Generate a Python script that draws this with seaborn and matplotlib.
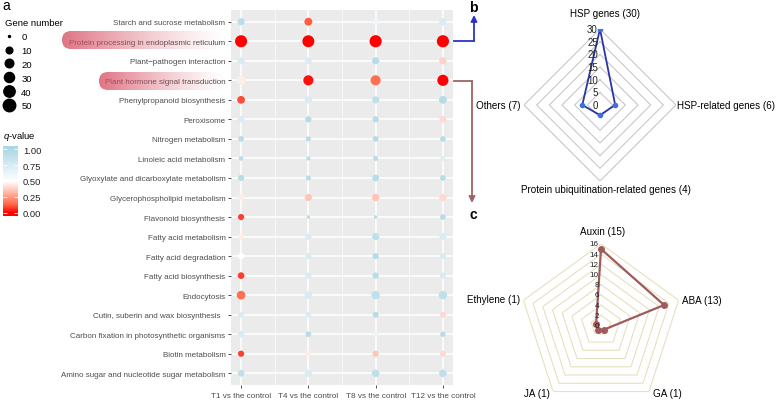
import numpy as np
import pandas as pd
import matplotlib
matplotlib.use("Agg")
import matplotlib.pyplot as plt
import seaborn as sns
from matplotlib.colors import LinearSegmentedColormap
from matplotlib.lines import Line2D
from matplotlib.patches import FancyBboxPatch

# ── data: panel a (KEGG enrichment bubbles) ──
PATHWAYS = [
    "Starch and sucrose metabolism",
    "Protein processing in endoplasmic reticulum",
    "Plant\u2212pathogen interaction",
    "Plant hormone signal transduction",
    "Phenylpropanoid biosynthesis",
    "Peroxisome",
    "Nitrogen metabolism",
    "Linoleic acid metabolism",
    "Glyoxylate and dicarboxylate metabolism",
    "Glycerophospholipid metabolism",
    "Flavonoid biosynthesis",
    "Fatty acid metabolism",
    "Fatty acid degradation",
    "Fatty acid biosynthesis",
    "Endocytosis",
    "Cutin, suberin and wax biosynthesis  ",
    "Carbon fixation in photosynthetic organisms",
    "Biotin metabolism",
    "Amino sugar and nucleotide sugar metabolism",
]
GROUPS = ["T1 vs the control", "T4 vs the control", "T8 vs the control", "T12 vs the control"]

GENE_COUNT = [
    [12, 16, 12, 12],
    [46, 45, 47, 47],
    [12, 10, 12, 13],
    [22, 30, 30, 38],
    [15, 12, 12, 16],
    [10, 8, 8, 10],
    [6, 4, 6, 6],
    [3, 2, 4, 4],
    [8, 4, 10, 6],
    [10, 12, 14, 13],
    [8, 1, 1, 6],
    [8, 8, 12, 11],
    [8, 7, 8, 7],
    [10, 7, 8, 7],
    [20, 14, 18, 18],
    [7, 6, 7, 7],
    [10, 6, 8, 5],
    [8, 6, 8, 7],
    [10, 12, 14, 14],
]
Q_VALUE = [
    [0.92, 0.12, 0.60, 0.75],
    [0.00, 0.00, 0.00, 0.00],
    [0.75, 0.75, 0.95, 0.38],
    [0.45, 0.02, 0.15, 0.00],
    [0.10, 0.75, 0.90, 0.95],
    [0.75, 0.95, 0.95, 0.40],
    [0.95, 0.95, 0.95, 0.95],
    [0.95, 0.95, 0.95, 0.70],
    [0.95, 0.95, 0.95, 0.95],
    [0.45, 0.35, 0.35, 0.40],
    [0.08, 0.95, 0.95, 0.95],
    [0.45, 0.75, 0.90, 0.75],
    [0.50, 0.75, 0.95, 0.75],
    [0.08, 0.75, 0.95, 0.75],
    [0.15, 0.75, 0.90, 0.90],
    [0.75, 0.75, 0.95, 0.40],
    [0.75, 0.95, 0.62, 0.95],
    [0.08, 0.45, 0.35, 0.40],
    [0.90, 0.75, 0.90, 0.90],
]
SIZE_BREAKS = [0, 10, 20, 30, 40, 50]
Q_BREAKS = [0.0, 0.25, 0.5, 0.75, 1.0]

# ── data: panel b / c (radar) ──
HSP_CATS = ["HSP genes (30)", "HSP-related genes (6)",
            "Protein ubiquitination-related genes (4)", "Others (7)"]
HSP_VALS = [30, 6, 4, 7]
HSP_TICKS = [0, 5, 10, 15, 20, 25, 30]
HORMONE_CATS = ["Auxin (15)", "ABA (13)", "GA (1)", "JA (1)", "Ethylene (1)"]
HORMONE_VALS = [15, 13, 1, 1, 1]
HORMONE_TICKS = [0, 2, 4, 6, 8, 10, 12, 14, 16]

plt.rcParams["font.family"] = ["Liberation Sans", "DejaVu Sans"]
plt.rcParams["mathtext.fontset"] = "custom"
plt.rcParams["mathtext.it"] = "Liberation Sans:italic"
plt.rcParams["mathtext.rm"] = "Liberation Sans"

W, H = 777, 402
fig = plt.figure(figsize=(W / 100, H / 100), dpi=100)

q_cmap = LinearSegmentedColormap.from_list("qv", [
    (0.0, "#FF0000"), (0.125, "#FF6446"), (0.25, "#FF9C82"),
    (0.375, "#FFD0C4"), (0.5, "#FFFFFF"), (0.75, "#D8ECF3"), (1.0, "#ADD8E6")])


def diam_px(n):
    # ggplot-like area scale
    return 2.0 + 10.5 * np.sqrt(n / 50.0)


def to_frac(x0, y0, w, h):
    return [x0 / W, 1 - (y0 + h) / H, w / W, h / H]


# ── panel a ──
df = pd.DataFrame(
    [(p, g, GENE_COUNT[i][j], Q_VALUE[i][j])
     for i, p in enumerate(PATHWAYS) for j, g in enumerate(GROUPS)],
    columns=["pathway", "group", "count", "q"])
size_map = {n: (diam_px(n) * 0.72) ** 2 for n in df["count"].unique()}

ax = fig.add_axes(to_frac(231, 11, 222, 375))
ax.set_facecolor("#EBEBEB")
sns.scatterplot(data=df, x="group", y="pathway", size="count", sizes=size_map,
                hue="q", palette=q_cmap, hue_norm=(0, 1), legend=False,
                linewidth=0, ax=ax, zorder=3)
ax.set_xticks(np.arange(len(GROUPS) - 1) + 0.5, minor=True)
ax.set_xlim(-0.15, len(GROUPS) - 1 + 0.15)
ax.set_ylim(len(PATHWAYS) - 1 + 0.6, -0.6)
ax.grid(True, which="major", color="white", lw=1.1)
ax.grid(True, which="minor", axis="x", color="white", lw=0.5)
ax.set_axisbelow(True)
for s in ax.spines.values():
    s.set_visible(False)
ax.set_xlabel("")
ax.set_ylabel("")
ax.tick_params(which="major", length=2.5, width=0.6, color="#333333",
               labelcolor="#4D4D4D", pad=1.5)
ax.tick_params(axis="y", labelsize=5.8)
ax.tick_params(axis="x", labelsize=5.9, pad=2.5)
ax.tick_params(which="minor", length=0)

# size legend
handles = [Line2D([], [], ls="", marker="o", color="black",
                  markersize=diam_px(n) * 0.72) for n in SIZE_BREAKS]
leg = ax.legend(handles, [str(n) for n in SIZE_BREAKS], title="Gene number",
                loc="upper left", bbox_to_anchor=(0.006, 1 - 19 / H),
                bbox_transform=fig.transFigure, frameon=False, fontsize=6.8,
                title_fontsize=6.8, labelspacing=0.52, handlelength=1.0,
                handletextpad=0.75, borderaxespad=0, borderpad=0, alignment="left")

# colour bar
cax = fig.add_axes(to_frac(3, 147, 15, 70))
grad = np.linspace(-0.05, 1.05, 256)
cax.imshow(grad[:, None], cmap=q_cmap, vmin=0, vmax=1, aspect="auto",
           origin="lower", extent=(0, 1, grad[0], grad[-1]))
cax.set_xticks([])
cax.set_yticks(Q_BREAKS)
cax.set_yticklabels([f"{v:.2f}" for v in Q_BREAKS])
cax.yaxis.tick_right()
cax.tick_params(axis="y", direction="in", color="white", length=3, width=0.6,
                labelsize=6.8, labelcolor="#222222", pad=3.5, left=True, right=True)
for s in cax.spines.values():
    s.set_visible(False)


# ── panel b / c ──
def radar(rect, cats, vals, ticks, ring_color, line_color, marker_color, tick_fs, lw, ms):
    axr = fig.add_axes(rect, projection="polar")
    axr.set_theta_zero_location("N")
    axr.set_theta_direction(-1)
    axr.set_ylim(0, ticks[-1])
    axr.grid(False)
    axr.spines["polar"].set_visible(False)
    axr.set_xticks([])
    axr.set_yticks([])
    axr.patch.set_alpha(0)
    theta = np.linspace(0, 2 * np.pi, len(cats), endpoint=False)
    closed = np.append(theta, theta[0])
    for r in ticks[1:]:
        axr.plot(closed, [r] * len(closed), color=ring_color, lw=0.8, zorder=1)
    axr.plot(closed, np.append(vals, vals[0]), color=line_color, lw=lw, zorder=3)
    axr.plot(theta, vals, ls="", marker="o", ms=ms, color=marker_color, zorder=4)
    for t in ticks:
        axr.annotate(str(t), xy=(0, t), xytext=(-1.5, 0), textcoords="offset points",
                     ha="right", va="center", fontsize=tick_fs, color="#222222",
                     zorder=5, annotation_clip=False)
    return axr


radar(to_frac(524, 30, 152, 152), HSP_CATS, HSP_VALS, HSP_TICKS,
      "#C8C8C8", "#2B35A6", "#3F6FD8", 7.0, 1.3, 3)
radar(to_frac(519.4, 244.9, 163.2, 163.2), HORMONE_CATS, HORMONE_VALS, HORMONE_TICKS,
      "#E6E1BE", "#A05A5C", "#A05A5C", 5.9, 1.6, 4)

# ── overlay: annotations, highlight boxes, arrows ──
ov = fig.add_axes([0, 0, 1, 1], zorder=10)
ov.axis("off")

for (x0, x1, y0, y1) in [(62, 227, 32, 50), (99, 227, 73, 91)]:
    box = FancyBboxPatch((x0, y0), x1 - x0, y1 - y0,
                         boxstyle="round,pad=0,rounding_size=9",
                         facecolor="none", edgecolor="none")
    ov.add_patch(box)
    g = np.zeros((1, 256, 4))
    g[..., 0], g[..., 1], g[..., 2] = 0.84, 0.30, 0.38
    g[..., 3] = 0.78 * np.linspace(1.0, 0.0, 256) ** 1.3
    im = ov.imshow(g, extent=(x0, x1, y1, y0), aspect="auto", interpolation="bilinear")
    im.set_clip_path(box)

ov.plot([454, 474], [42, 42], color="#2A35C8", lw=1.3)
ov.annotate("", xy=(474, 16), xytext=(474, 42),
            arrowprops=dict(arrowstyle="-|>", color="#2A35C8", lw=1.3,
                            mutation_scale=9, shrinkA=0, shrinkB=0))
ov.plot([454, 472], [82, 82], color="#9C6464", lw=1.3)
ov.annotate("", xy=(472, 204), xytext=(472, 82),
            arrowprops=dict(arrowstyle="-|>", color="#9C6464", lw=1.3,
                            mutation_scale=9, shrinkA=0, shrinkB=0))

ov.text(2, 6, "a", fontsize=10, va="center", ha="left")
ov.text(473, 8, "b", fontsize=10, va="center", ha="center", fontweight="bold")
ov.text(473, 215, "c", fontsize=10, va="center", ha="center", fontweight="bold")
ov.text(3, 137, "$q$-value", fontsize=6.8, va="center", ha="left")

label_fs = 7.1
ov.text(605, 14, HSP_CATS[0], fontsize=label_fs, ha="center", va="center")
ov.text(677, 106, HSP_CATS[1], fontsize=label_fs, ha="left", va="center")
ov.text(606, 190, HSP_CATS[2], fontsize=label_fs, ha="center", va="center")
ov.text(521, 106, HSP_CATS[3], fontsize=label_fs, ha="right", va="center")
ov.text(603, 232, HORMONE_CATS[0], fontsize=label_fs, ha="center", va="center")
ov.text(682, 301, HORMONE_CATS[1], fontsize=label_fs, ha="left", va="center")
ov.text(667, 394, HORMONE_CATS[2], fontsize=label_fs, ha="center", va="center")
ov.text(537, 394, HORMONE_CATS[3], fontsize=label_fs, ha="center", va="center")
ov.text(520, 300, HORMONE_CATS[4], fontsize=label_fs, ha="right", va="center")

ov.set_xlim(0, W)
ov.set_ylim(H, 0)

fig.savefig("out.png", dpi=100)
